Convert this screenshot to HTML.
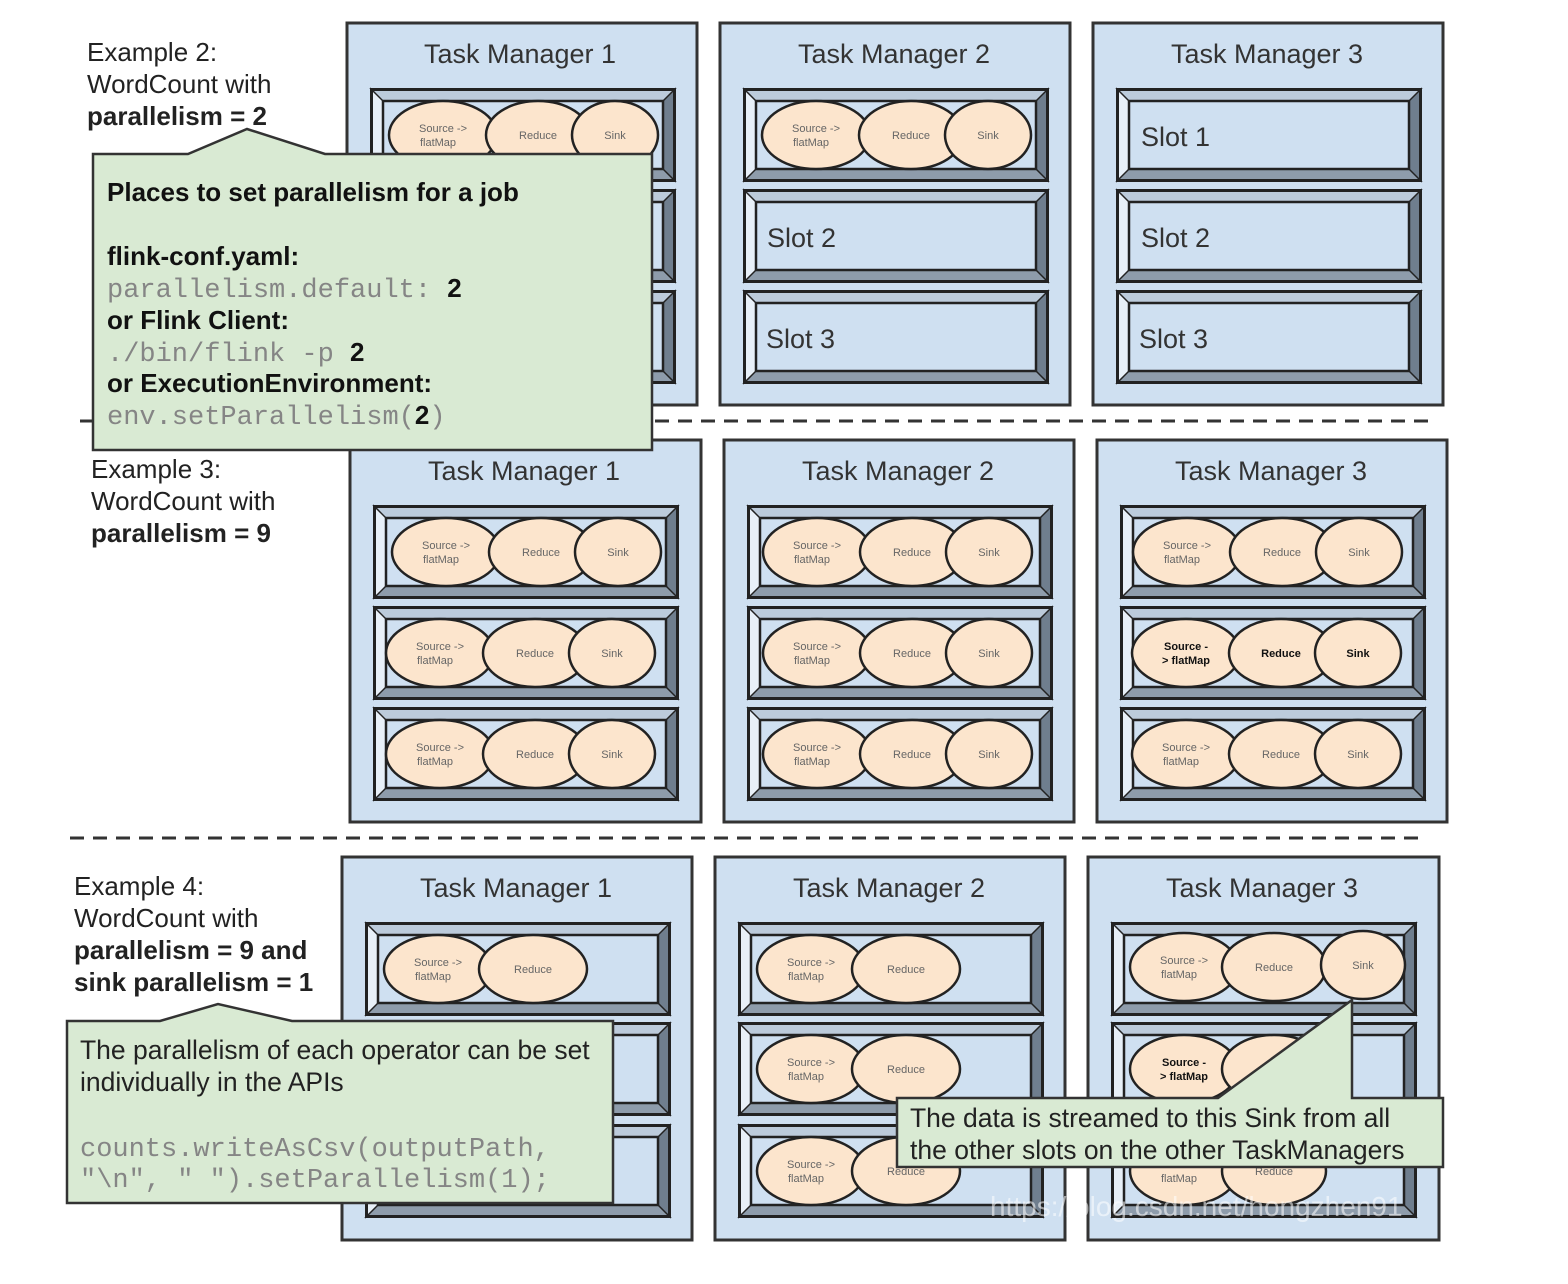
<!DOCTYPE html>
<html><head><meta charset="utf-8"><style>
html,body{margin:0;padding:0;background:#fff}
svg{display:block}
.t{font-family:"Liberation Sans",sans-serif}
.tm{font-family:"Liberation Sans",sans-serif;font-size:27px;fill:#333;text-anchor:middle}
.sl{font-family:"Liberation Sans",sans-serif;font-size:27px;fill:#333}
.e{fill:#fce5cd;stroke:#222;stroke-width:2.5}
.et{font-family:"Liberation Sans",sans-serif;font-size:11px;fill:#666;text-anchor:middle}
.eb{font-family:"Liberation Sans",sans-serif;font-size:11px;fill:#111;font-weight:bold;text-anchor:middle}
.mono{font-family:"Liberation Mono",monospace;font-size:27px;fill:#858585}
.lbl{font-family:"Liberation Sans",sans-serif;font-size:26px;fill:#222}
</style></head><body>
<svg width="1568" height="1284" viewBox="0 0 1568 1284" xmlns="http://www.w3.org/2000/svg">
<defs>
<symbol id="slot" viewBox="0 0 306 94" width="306" height="94" overflow="visible">
<rect x="0" y="0" width="306" height="94" fill="#bccbdb"/>
<polygon points="0,0 13,13 13,81 0,94" fill="#e8f0f8"/>
<polygon points="306,0 293,13 293,81 306,94" fill="#6f7e8e"/>
<polygon points="0,94 13,81 293,81 306,94" fill="#8e9cab"/>
<line x1="0" y1="0" x2="13" y2="13" stroke="#222" stroke-width="1.5"/>
<line x1="306" y1="0" x2="293" y2="13" stroke="#222" stroke-width="1.5"/>
<line x1="0" y1="94" x2="13" y2="81" stroke="#222" stroke-width="1.5"/>
<line x1="306" y1="94" x2="293" y2="81" stroke="#222" stroke-width="1.5"/>
<rect x="13" y="13" width="280" height="68" fill="#cfe0f1" stroke="#222" stroke-width="2.5"/>
<rect x="1.5" y="1.5" width="303" height="91" fill="none" stroke="#222" stroke-width="3"/>
</symbol>
</defs>

<line x1="80" y1="421" x2="1430" y2="421" stroke="#333" stroke-width="3" stroke-dasharray="14,9"/>
<line x1="70" y1="838" x2="1420" y2="838" stroke="#333" stroke-width="3" stroke-dasharray="14,9"/>

<g fill="#cfe0f1" stroke="#333" stroke-width="3">
<rect x="347" y="23" width="350" height="382"/>
<rect x="720" y="23" width="350" height="382"/>
<rect x="1093" y="23" width="350" height="382"/>
<rect x="350" y="440" width="351" height="382"/>
<rect x="724" y="440" width="350" height="382"/>
<rect x="1097" y="440" width="350" height="382"/>
<rect x="342" y="857" width="350" height="383"/>
<rect x="715" y="857" width="350" height="383"/>
<rect x="1088" y="857" width="351" height="383"/>
</g>
<text class="tm" x="520" y="63">Task Manager 1</text>
<text class="tm" x="894" y="63">Task Manager 2</text>
<text class="tm" x="1267" y="63">Task Manager 3</text>
<text class="tm" x="524" y="480">Task Manager 1</text>
<text class="tm" x="898" y="480">Task Manager 2</text>
<text class="tm" x="1271" y="480">Task Manager 3</text>
<text class="tm" x="516" y="897">Task Manager 1</text>
<text class="tm" x="889" y="897">Task Manager 2</text>
<text class="tm" x="1262" y="897">Task Manager 3</text>

<use href="#slot" x="370" y="88"/><use href="#slot" x="370" y="189"/><use href="#slot" x="370" y="290"/>
<use href="#slot" x="743" y="88"/><use href="#slot" x="743" y="189"/><use href="#slot" x="743" y="290"/>
<use href="#slot" x="1116" y="88"/><use href="#slot" x="1116" y="189"/><use href="#slot" x="1116" y="290"/>
<use href="#slot" x="373" y="505"/><use href="#slot" x="373" y="606"/><use href="#slot" x="373" y="707"/>
<use href="#slot" x="747" y="505"/><use href="#slot" x="747" y="606"/><use href="#slot" x="747" y="707"/>
<use href="#slot" x="1120" y="505"/><use href="#slot" x="1120" y="606"/><use href="#slot" x="1120" y="707"/>
<use href="#slot" x="365" y="922"/><use href="#slot" x="365" y="1022"/><use href="#slot" x="365" y="1124"/>
<use href="#slot" x="738" y="922"/><use href="#slot" x="738" y="1022"/><use href="#slot" x="738" y="1124"/>
<use href="#slot" x="1111" y="922"/><use href="#slot" x="1111" y="1022"/><use href="#slot" x="1111" y="1124"/>

<text class="sl" x="1141" y="146">Slot 1</text>
<text class="sl" x="767" y="247">Slot 2</text>
<text class="sl" x="1141" y="247">Slot 2</text>
<text class="sl" x="766" y="348">Slot 3</text>
<text class="sl" x="1139" y="348">Slot 3</text>

<g transform="translate(370,88)">
<ellipse class="e" cx="73" cy="47" rx="54" ry="34"/><ellipse class="e" cx="168" cy="47" rx="52" ry="34"/><ellipse class="e" cx="245" cy="47" rx="43" ry="34"/>
<text class="et" x="73" y="44">Source -&gt;</text><text class="et" x="68" y="58">flatMap</text><text class="et" x="168" y="51">Reduce</text><text class="et" x="245" y="51">Sink</text></g>
<g transform="translate(743,88)">
<ellipse class="e" cx="73" cy="47" rx="54" ry="34"/><ellipse class="e" cx="168" cy="47" rx="52" ry="34"/><ellipse class="e" cx="245" cy="47" rx="43" ry="34"/>
<text class="et" x="73" y="44">Source -&gt;</text><text class="et" x="68" y="58">flatMap</text><text class="et" x="168" y="51">Reduce</text><text class="et" x="245" y="51">Sink</text></g>

<g transform="translate(373,505)">
<ellipse class="e" cx="73" cy="47" rx="54" ry="34"/><ellipse class="e" cx="168" cy="47" rx="52" ry="34"/><ellipse class="e" cx="245" cy="47" rx="43" ry="34"/>
<text class="et" x="73" y="44">Source -&gt;</text><text class="et" x="68" y="58">flatMap</text><text class="et" x="168" y="51">Reduce</text><text class="et" x="245" y="51">Sink</text></g>
<g transform="translate(367,606)">
<ellipse class="e" cx="73" cy="47" rx="54" ry="34"/><ellipse class="e" cx="168" cy="47" rx="52" ry="34"/><ellipse class="e" cx="245" cy="47" rx="43" ry="34"/>
<text class="et" x="73" y="44">Source -&gt;</text><text class="et" x="68" y="58">flatMap</text><text class="et" x="168" y="51">Reduce</text><text class="et" x="245" y="51">Sink</text></g>
<g transform="translate(367,707)">
<ellipse class="e" cx="73" cy="47" rx="54" ry="34"/><ellipse class="e" cx="168" cy="47" rx="52" ry="34"/><ellipse class="e" cx="245" cy="47" rx="43" ry="34"/>
<text class="et" x="73" y="44">Source -&gt;</text><text class="et" x="68" y="58">flatMap</text><text class="et" x="168" y="51">Reduce</text><text class="et" x="245" y="51">Sink</text></g>

<g transform="translate(744,505)">
<ellipse class="e" cx="73" cy="47" rx="54" ry="34"/><ellipse class="e" cx="168" cy="47" rx="52" ry="34"/><ellipse class="e" cx="245" cy="47" rx="43" ry="34"/>
<text class="et" x="73" y="44">Source -&gt;</text><text class="et" x="68" y="58">flatMap</text><text class="et" x="168" y="51">Reduce</text><text class="et" x="245" y="51">Sink</text></g>
<g transform="translate(744,606)">
<ellipse class="e" cx="73" cy="47" rx="54" ry="34"/><ellipse class="e" cx="168" cy="47" rx="52" ry="34"/><ellipse class="e" cx="245" cy="47" rx="43" ry="34"/>
<text class="et" x="73" y="44">Source -&gt;</text><text class="et" x="68" y="58">flatMap</text><text class="et" x="168" y="51">Reduce</text><text class="et" x="245" y="51">Sink</text></g>
<g transform="translate(744,707)">
<ellipse class="e" cx="73" cy="47" rx="54" ry="34"/><ellipse class="e" cx="168" cy="47" rx="52" ry="34"/><ellipse class="e" cx="245" cy="47" rx="43" ry="34"/>
<text class="et" x="73" y="44">Source -&gt;</text><text class="et" x="68" y="58">flatMap</text><text class="et" x="168" y="51">Reduce</text><text class="et" x="245" y="51">Sink</text></g>

<g transform="translate(1114,505)">
<ellipse class="e" cx="73" cy="47" rx="54" ry="34"/><ellipse class="e" cx="168" cy="47" rx="52" ry="34"/><ellipse class="e" cx="245" cy="47" rx="43" ry="34"/>
<text class="et" x="73" y="44">Source -&gt;</text><text class="et" x="68" y="58">flatMap</text><text class="et" x="168" y="51">Reduce</text><text class="et" x="245" y="51">Sink</text></g>
<g transform="translate(1113,606)">
<ellipse class="e" cx="73" cy="47" rx="54" ry="34"/><ellipse class="e" cx="168" cy="47" rx="52" ry="34"/><ellipse class="e" cx="245" cy="47" rx="43" ry="34"/>
<text class="eb" x="73" y="44">Source -</text><text class="eb" x="73" y="58">&gt; flatMap</text><text class="eb" x="168" y="51">Reduce</text><text class="eb" x="245" y="51">Sink</text></g>
<g transform="translate(1113,707)">
<ellipse class="e" cx="73" cy="47" rx="54" ry="34"/><ellipse class="e" cx="168" cy="47" rx="52" ry="34"/><ellipse class="e" cx="245" cy="47" rx="43" ry="34"/>
<text class="et" x="73" y="44">Source -&gt;</text><text class="et" x="68" y="58">flatMap</text><text class="et" x="168" y="51">Reduce</text><text class="et" x="245" y="51">Sink</text></g>

<g transform="translate(365,922)">
<ellipse class="e" cx="73" cy="47" rx="54" ry="34"/><ellipse class="e" cx="168" cy="47" rx="54" ry="34"/>
<text class="et" x="73" y="44">Source -&gt;</text><text class="et" x="68" y="58">flatMap</text><text class="et" x="168" y="51">Reduce</text></g>
<g transform="translate(738,922)">
<ellipse class="e" cx="73" cy="47" rx="54" ry="34"/><ellipse class="e" cx="168" cy="47" rx="54" ry="34"/>
<text class="et" x="73" y="44">Source -&gt;</text><text class="et" x="68" y="58">flatMap</text><text class="et" x="168" y="51">Reduce</text></g>
<g transform="translate(738,1022)">
<ellipse class="e" cx="73" cy="47" rx="54" ry="34"/><ellipse class="e" cx="168" cy="47" rx="54" ry="34"/>
<text class="et" x="73" y="44">Source -&gt;</text><text class="et" x="68" y="58">flatMap</text><text class="et" x="168" y="51">Reduce</text></g>
<g transform="translate(738,1124)">
<ellipse class="e" cx="73" cy="47" rx="54" ry="34"/><ellipse class="e" cx="168" cy="47" rx="54" ry="34"/>
<text class="et" x="73" y="44">Source -&gt;</text><text class="et" x="68" y="58">flatMap</text><text class="et" x="168" y="51">Reduce</text></g>
<g transform="translate(1111,922)">
<ellipse class="e" cx="73" cy="45" rx="54" ry="34"/><ellipse class="e" cx="163" cy="45" rx="52" ry="34"/><ellipse class="e" cx="252" cy="43" rx="42" ry="34"/>
<text class="et" x="73" y="42">Source -&gt;</text><text class="et" x="68" y="56">flatMap</text><text class="et" x="163" y="49">Reduce</text><text class="et" x="252" y="47">Sink</text></g>
<g transform="translate(1111,1022)">
<ellipse class="e" cx="73" cy="47" rx="54" ry="34"/><ellipse class="e" cx="163" cy="47" rx="52" ry="34"/>
<text class="eb" x="73" y="44">Source -</text><text class="eb" x="73" y="58">&gt; flatMap</text></g>
<g transform="translate(1111,1124)">
<ellipse class="e" cx="73" cy="47" rx="54" ry="34"/><ellipse class="e" cx="163" cy="47" rx="52" ry="34"/>
<text class="et" x="68" y="58">flatMap</text><text class="et" x="163" y="51">Reduce</text></g>

<text class="lbl" x="87" y="61">Example 2:</text>
<text class="lbl" x="87" y="93">WordCount with</text>
<text class="lbl" x="87" y="125" font-weight="bold">parallelism = 2</text>
<text class="lbl" x="91" y="478">Example 3:</text>
<text class="lbl" x="91" y="510">WordCount with</text>
<text class="lbl" x="91" y="542" font-weight="bold">parallelism = 9</text>
<text class="lbl" x="74" y="895">Example 4:</text>
<text class="lbl" x="74" y="927">WordCount with</text>
<text class="lbl" x="74" y="959" font-weight="bold">parallelism = 9 and</text>
<text class="lbl" x="74" y="991" font-weight="bold">sink parallelism = 1</text>

<path d="M93,154 L188,154 L247,129 L325,154 L652,154 L652,450 L93,450 Z" fill="#d9ead3" stroke="#333" stroke-width="2.5"/>
<text class="t" x="107" y="201" font-size="26" font-weight="bold" fill="#111">Places to set parallelism for a job</text>
<text class="t" x="107" y="265" font-size="26" font-weight="bold" fill="#111">flink-conf.yaml:</text>
<text x="107" y="297"><tspan class="mono">parallelism.default: </tspan><tspan class="t" font-size="26" font-weight="bold" fill="#111">2</tspan></text>
<text class="t" x="107" y="329" font-size="26" font-weight="bold" fill="#111">or Flink Client:</text>
<text x="107" y="361"><tspan class="mono">./bin/flink -p </tspan><tspan class="t" font-size="26" font-weight="bold" fill="#111">2</tspan></text>
<text class="t" x="107" y="392" font-size="26" font-weight="bold" fill="#111">or ExecutionEnvironment:</text>
<text x="107" y="424"><tspan class="mono">env.setParallelism(</tspan><tspan class="t" font-size="26" font-weight="bold" fill="#111">2</tspan><tspan class="mono">)</tspan></text>

<path d="M67,1021 L160,1021 L218,1004 L292,1021 L613,1021 L613,1203 L67,1203 Z" fill="#d9ead3" stroke="#333" stroke-width="2.5"/>
<text class="t" x="80" y="1059" font-size="26.5" fill="#222">The parallelism of each operator can be set</text>
<text class="t" x="80" y="1091" font-size="26.5" fill="#222">individually in the APIs</text>
<text class="mono" x="80" y="1156">counts.writeAsCsv(outputPath,</text>
<text class="mono" x="80" y="1187">"\n", " ").setParallelism(1);</text>

<path d="M897,1098 L1218,1098 L1352,1000 L1352,1098 L1443,1098 L1443,1167 L897,1167 Z" fill="#d9ead3" stroke="#333" stroke-width="2.5"/>
<text class="t" x="910" y="1127" font-size="26.5" fill="#222">The data is streamed to this Sink from all</text>
<text class="t" x="910" y="1159" font-size="26.5" fill="#222">the other slots on the other TaskManagers</text>

<text class="t" x="990" y="1216" font-size="28" fill="#ffffff" fill-opacity="0.55">https://blog.csdn.net/hongzhen91</text>
</svg>
</body></html>
